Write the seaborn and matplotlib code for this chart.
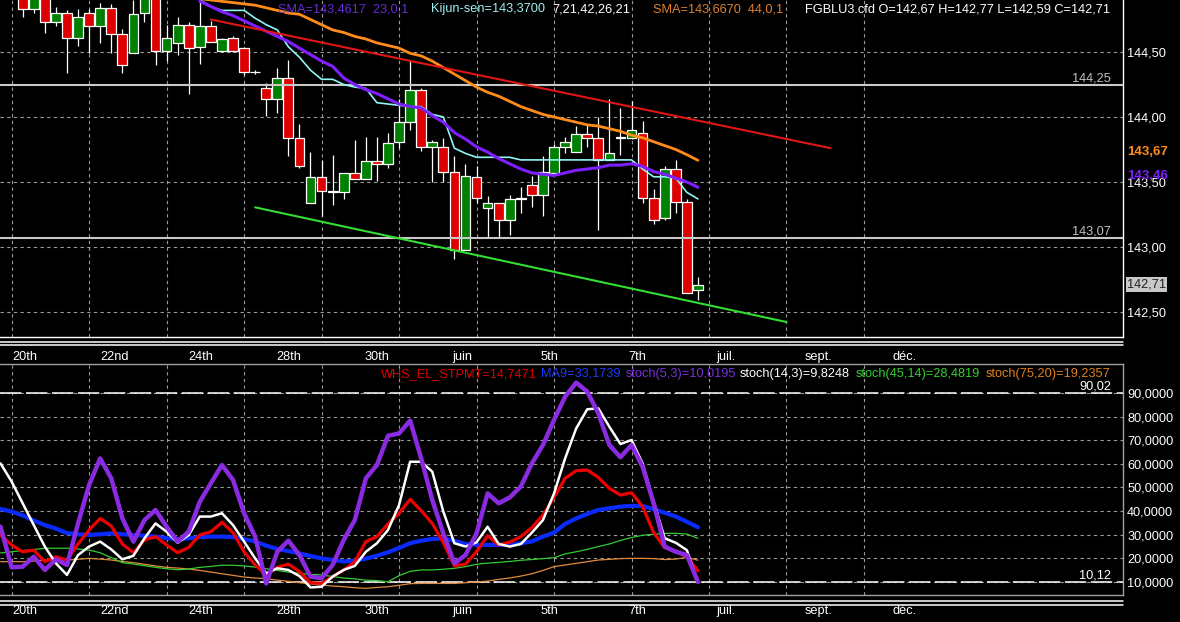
import matplotlib
matplotlib.use("Agg")
import numpy as np
import pandas as pd
import matplotlib.pyplot as plt
import seaborn as sns
from matplotlib.lines import Line2D

# ---- price candles (one per session, index 0..61)
opens = [144.95, 144.83, 144.93, 144.73, 144.80, 144.61, 144.80, 144.70, 144.84, 144.64,
         144.49, 144.80, 144.93, 144.51, 144.57, 144.71, 144.54, 144.70, 144.51, 144.61,
         144.53, 144.35, 144.22, 144.14, 144.30, 143.84, 143.34, 143.54, 143.43, 143.42,
         143.57, 143.52, 143.66, 143.64, 143.81, 143.96, 144.21, 143.77, 143.77, 143.58,
         142.98, 143.54, 143.30, 143.34, 143.21, 143.37, 143.48, 143.40, 143.57, 143.77,
         143.73, 143.87, 143.84, 143.67, 143.85, 143.84, 143.88, 143.38, 143.22, 143.60,
         143.35, 142.67]
highs = [144.98, 144.95, 144.96, 144.85, 144.82, 144.83, 144.83, 144.88, 144.87, 144.68,
         144.90, 144.95, 144.96, 144.71, 144.77, 144.73, 144.95, 144.74, 144.61, 144.62,
         144.54, 144.36, 144.26, 144.38, 144.44, 143.95, 143.73, 143.67, 143.71, 143.57,
         143.82, 143.85, 143.85, 143.88, 144.14, 144.43, 144.22, 143.82, 143.84, 143.70,
         143.64, 143.62, 143.39, 143.34, 143.40, 143.46, 143.55, 143.70, 143.79, 143.85,
         143.93, 143.94, 144.00, 144.14, 144.07, 144.12, 143.97, 143.45, 143.62, 143.67,
         143.37, 142.77]
lows = [144.77, 144.80, 144.65, 144.70, 144.34, 144.55, 144.49, 144.57, 144.49, 144.34,
        144.49, 144.73, 144.40, 144.43, 144.48, 144.18, 144.41, 144.58, 144.50, 144.50,
        144.32, 144.33, 144.01, 144.03, 143.70, 143.61, 143.34, 143.24, 143.32, 143.37,
        143.52, 143.52, 143.51, 143.61, 143.76, 143.90, 143.74, 143.50, 143.50, 142.91,
        142.98, 143.34, 143.08, 143.08, 143.09, 143.26, 143.31, 143.24, 143.57, 143.72,
        143.73, 143.77, 143.13, 143.67, 143.71, 143.83, 143.34, 143.18, 143.21, 143.26,
        142.65, 142.59]
closes = [144.83, 144.92, 144.73, 144.80, 144.61, 144.77, 144.70, 144.84, 144.64, 144.40,
          144.79, 144.92, 144.51, 144.61, 144.71, 144.53, 144.70, 144.58, 144.60, 144.51,
          144.35, 144.345, 144.14, 144.30, 143.84, 143.62, 143.54, 143.43, 143.42, 143.57,
          143.52, 143.66, 143.64, 143.80, 143.96, 144.21, 143.77, 143.81, 143.58, 142.98,
          143.55, 143.38, 143.34, 143.21, 143.37, 143.38, 143.40, 143.58, 143.77, 143.81,
          143.87, 143.84, 143.67, 143.72, 143.84, 143.90, 143.38, 143.21, 143.60, 143.35,
          142.65, 142.71]

# ---- overlays on price (index 16..61)
ma_start = 16
sma44 = [144.91, 144.90, 144.89, 144.88, 144.87, 144.86, 144.84, 144.82, 144.80, 144.79,
         144.75, 144.71, 144.67, 144.65, 144.62, 144.60, 144.57, 144.55, 144.53, 144.49,
         144.47, 144.43, 144.38, 144.33, 144.28, 144.23, 144.19, 144.16, 144.12, 144.08,
         144.05, 144.02, 144.00, 143.98, 143.96, 143.94, 143.93, 143.91, 143.89, 143.86,
         143.84, 143.81, 143.78, 143.75, 143.71, 143.667]
sma23 = [144.89, 144.85, 144.81, 144.78, 144.74, 144.70, 144.66, 144.62, 144.58, 144.53,
         144.48, 144.43, 144.39, 144.30, 144.25, 144.21, 144.18, 144.14, 144.10, 144.08,
         144.07, 144.01, 143.96, 143.88, 143.83, 143.77, 143.73, 143.68, 143.64, 143.60,
         143.57, 143.56, 143.55, 143.57, 143.59, 143.60, 143.61, 143.63, 143.63, 143.64,
         143.62, 143.58, 143.56, 143.53, 143.50, 143.46]
kijun = [144.90, 144.85, 144.82, 144.82, 144.82, 144.76, 144.71, 144.67, 144.54, 144.46,
         144.36, 144.29, 144.29, 144.25, 144.23, 144.22, 144.11, 144.10, 144.09, 144.08,
         144.08, 144.02, 144.00, 143.76, 143.72, 143.69, 143.69, 143.69, 143.69, 143.67,
         143.67, 143.67, 143.67, 143.67, 143.67, 143.67, 143.67, 143.67, 143.67, 143.67,
         143.60, 143.54, 143.54, 143.53, 143.42, 143.37]
red_trend_x = [17, 73]
red_trend_y = [144.75, 143.76]
green_trend_x = [21, 69]
green_trend_y = [143.305, 142.423]
price_levels = [144.25, 143.07]

# ---- oscillators (index -2..61)
osc_start = -2
stpmt = [29.9, 25.7, 22.8, 23.5, 18.6, 20.7, 19.3, 26.1, 32.0, 36.9, 33.7, 26.1, 22.4, 27.8,
         29.2, 25.7, 22.4, 24.7, 29.9, 31.3, 35.3, 30.9, 22.8, 17.2, 13.0, 16.2, 17.6, 14.4,
         9.7, 9.4, 12.3, 15.1, 18.6, 27.1, 29.2, 34.6, 39.1, 45.0, 40.2, 34.8, 26.6, 16.8,
         17.6, 22.8, 29.6, 25.7, 26.9, 29.2, 33.0, 38.4, 45.8, 53.9, 57.1, 57.4, 54.3, 49.6,
         46.8, 47.8, 41.9, 30.9, 24.5, 23.1, 20.7, 14.75]
ma9 = [40.9, 39.8, 38.2, 36.0, 34.1, 32.6, 30.7, 30.2, 29.9, 30.2, 30.6, 30.2, 29.9, 29.6,
       29.2, 28.6, 28.1, 28.5, 29.0, 29.2, 29.2, 29.0, 28.2, 27.1, 25.4, 24.0, 23.1, 22.1,
       21.0, 20.0, 19.3, 18.7, 19.0, 19.9, 21.1, 22.6, 24.4, 26.4, 27.5, 28.2, 28.5, 27.4,
       26.1, 25.7, 25.7, 25.7, 25.7, 26.4, 27.2, 29.2, 30.9, 34.6, 36.9, 38.8, 40.5, 41.2,
       41.9, 42.2, 42.2, 40.8, 39.3, 37.7, 35.5, 33.17]
stoch_5_3 = [33.4, 16.2, 16.5, 20.7, 15.1, 19.6, 17.2, 34.8, 51.1, 62.3, 53.9, 37.0, 27.1,
             36.2, 40.5, 33.4, 27.1, 31.3, 44.0, 51.8, 59.5, 53.2, 39.1, 29.2, 9.4, 22.8,
             27.5, 21.4, 12.3, 11.6, 17.2, 27.8, 36.2, 53.9, 59.5, 71.9, 72.9, 78.3, 62.3,
             44.7, 30.6, 17.9, 21.4, 30.6, 47.5, 43.3, 45.8, 50.4, 60.2, 68.0, 78.6, 88.4,
             94.4, 90.6, 81.4, 68.0, 62.8, 68.0, 58.8, 43.3, 25.0, 22.8, 21.4, 10.02]
stoch_14_3 = [60.2, 52.5, 43.3, 34.1, 25.0, 17.9, 13.0, 21.4, 25.0, 27.1, 23.8, 19.6, 21.1,
              28.5, 34.8, 31.3, 26.6, 29.9, 37.7, 37.7, 39.1, 34.1, 27.1, 20.0, 13.7, 15.8,
              15.1, 12.5, 7.7, 8.0, 12.3, 15.1, 16.8, 22.8, 26.4, 32.0, 42.6, 60.9, 60.9,
              56.7, 39.8, 26.4, 25.0, 26.8, 33.4, 26.1, 25.0, 26.1, 30.9, 36.2, 47.5, 62.3,
              75.0, 83.1, 83.5, 75.7, 68.4, 70.1, 60.2, 44.0, 28.5, 26.6, 23.5, 9.82]
stoch_45_14 = [22.3, 22.8, 23.3, 23.7, 24.3, 24.3, 24.3, 24.0, 23.5, 22.4, 20.3, 18.2, 17.6,
               16.9, 16.2, 15.6, 15.2, 15.5, 16.2, 16.6, 17.1, 17.1, 16.8, 16.3, 15.6, 14.9,
               14.2, 13.7, 13.2, 13.0, 12.3, 11.7, 11.3, 10.8, 10.6, 10.1, 12.7, 14.5, 15.1,
               15.1, 15.4, 15.8, 16.5, 17.5, 18.0, 18.3, 18.7, 19.2, 19.5, 19.9, 20.3, 21.9,
               22.8, 23.8, 25.0, 26.1, 27.6, 28.8, 29.8, 30.2, 30.6, 30.6, 30.3, 28.48]
stoch_75_20 = [18.6, 18.6, 18.6, 18.9, 19.3, 19.3, 19.3, 19.6, 20.0, 19.7, 19.3, 18.7, 18.2,
               17.5, 16.8, 16.2, 15.9, 15.5, 14.9, 14.2, 13.5, 12.8, 12.1, 11.7, 11.4, 10.8,
               10.3, 9.7, 9.2, 8.7, 8.3, 8.0, 7.6, 7.3, 7.7, 8.0, 8.6, 9.3, 9.4, 9.4, 9.4,
               9.4, 9.7, 10.0, 10.4, 11.1, 11.7, 12.5, 13.5, 14.9, 16.5, 17.2, 17.9, 18.6,
               19.3, 19.6, 19.9, 20.0, 20.0, 19.9, 19.5, 19.7, 20.4, 19.24]
osc_levels = [90.02, 10.12]

# ---- axis labels
date_labels = ["20th", "22nd", "24th", "28th", "30th", "juin", "5th", "7th", "juil.", "sept.", "déc."]
date_pos = [-0.9, 7.05, 15.0, 22.95, 30.9, 38.85, 46.8, 54.75, 62.7, 70.65, 78.6]
grid_pos = [-1, 6, 13, 20, 27, 34, 41, 48, 55, 62, 69, 76]
price_ticks = [142.5, 143.0, 143.5, 144.0, 144.5]
osc_ticks = [10, 20, 30, 40, 50, 60, 70, 80, 90]

sns.set_theme(style="dark")
plt.rcParams['font.family'] = ['Liberation Sans', 'DejaVu Sans']

W, H = 1180, 622
fig = plt.figure(figsize=(W / 100, H / 100), dpi=100, facecolor="black")
ax1 = fig.add_axes([0, 1 - 337 / H, 1123 / W, 337 / H])
ax2 = fig.add_axes([0, 1 - 595 / H, 1123 / W, (595 - 364) / H])

def comma(v, nd):
    return f"{v:.{nd}f}".replace(".", ",")

for ax in (ax1, ax2):
    ax.set_facecolor("black")
    ax.set_xlim(-2.05, 99.4)
    ax.set_xticks(grid_pos, minor=True)
    ax.set_xticks(date_pos)
    ax.set_xticklabels(date_labels, ha="left")
    ax.grid(False)
    ax.grid(True, which="minor", axis="x", color="#9a9a9a", lw=0.8, ls=(0, (3, 3)))
    ax.grid(True, which="major", axis="y", color="#9a9a9a", lw=0.8, ls=(0, (3, 3)))
    ax.yaxis.tick_right()
    ax.tick_params(which="both", length=0, colors="white", labelsize=9.2)
    ax.spines["left"].set_visible(False)

# ---- top panel
ax1.set_ylim(142.3077, 144.90)
ax1.set_yticks(price_ticks)
ax1.set_yticklabels([comma(v, 2) for v in price_ticks])
ax1.tick_params(axis="x", pad=10)
ax1.tick_params(axis="y", pad=3)
ax1.spines["top"].set_visible(False)
for s in ("right", "bottom"):
    ax1.spines[s].set_color("white")
    ax1.spines[s].set_linewidth(1.0)

idx = np.arange(len(opens))
o = np.array(opens); c = np.array(closes)
up = c >= o
ax1.vlines(idx, lows, highs, color="white", lw=0.9, zorder=2)
ax1.bar(idx, np.abs(c - o), bottom=np.minimum(o, c), width=0.88,
        color=np.where(up, "#008000", "#dd0000"), edgecolor="white", linewidth=0.9, zorder=3)

for lv in price_levels:
    ax1.axhline(lv, color="#c8c8c8", lw=1.5, zorder=4)
    ax1.text(1111 / 1123, lv, comma(lv, 2), transform=ax1.get_yaxis_transform(),
             ha="right", va="bottom", color="#c0c0c0", fontsize=9.2)

ma_idx = np.arange(ma_start, ma_start + len(sma44))
top_df = pd.DataFrame({"i": ma_idx, "sma44": sma44, "sma23": sma23, "kijun": kijun})
sns.lineplot(data=top_df, x="i", y="sma44", ax=ax1, color="#ff8c1a", lw=2.0, zorder=5)
sns.lineplot(data=top_df, x="i", y="kijun", ax=ax1, color="#8ff5f5", lw=1.2, zorder=5)
sns.lineplot(data=top_df, x="i", y="sma23", ax=ax1, color="#7f1fff", lw=2.2, zorder=6)
ax1.plot(red_trend_x, red_trend_y, color="#e01515", lw=1.5, zorder=6)
ax1.plot(green_trend_x, green_trend_y, color="#33dd33", lw=1.5, zorder=6)
ax1.set_xlabel(""); ax1.set_ylabel("")

ytr = ax1.get_yaxis_transform()
ax1.annotate("143,67", xy=(1, sma44[-1]), xycoords=ytr, xytext=(3, 6), textcoords="offset points",
             va="center", ha="left", color="#ff8c1a", fontsize=9.5, fontweight="bold", annotation_clip=False)
ax1.annotate("143,46", xy=(1, sma23[-1]), xycoords=ytr, xytext=(3, 8), textcoords="offset points",
             va="center", ha="left", color="#7f1fff", fontsize=9.5, fontweight="bold", annotation_clip=False)
ax1.annotate(comma(closes[-1], 2), xy=(1, closes[-1]), xycoords=ytr, xytext=(3, 0),
             textcoords="offset points", va="center", ha="left", color="#202020", fontsize=9.2,
             bbox=dict(boxstyle="square,pad=0.1", fc="#c8c8c8", ec="none"), annotation_clip=False)

# ---- bottom panel
ax2.set_ylim(4.50, 102.27)
ax2.set_yticks(osc_ticks)
ax2.set_yticklabels([comma(v, 4) for v in osc_ticks])
ax2.tick_params(axis="x", pad=7)
ax2.tick_params(axis="y", pad=3)
for s in ("right", "bottom", "top"):
    ax2.spines[s].set_color("#a0a0a0")
    ax2.spines[s].set_linewidth(1.0)

for lv in osc_levels:
    ax2.axhline(lv, color="white", lw=1.1, dashes=(14, 3), zorder=2)
    ax2.text(1111 / 1123, lv, comma(lv, 2), transform=ax2.get_yaxis_transform(),
             ha="right", va="bottom", color="white", fontsize=9.2)

osc_idx = np.arange(osc_start, osc_start + len(stpmt))
osc_df = pd.DataFrame({"i": osc_idx, "stpmt": stpmt, "ma9": ma9, "s53": stoch_5_3,
                       "s143": stoch_14_3, "s4514": stoch_45_14, "s7520": stoch_75_20})
sns.lineplot(data=osc_df, x="i", y="s7520", ax=ax2, color="#e08a3c", lw=0.9, zorder=3)
sns.lineplot(data=osc_df, x="i", y="s4514", ax=ax2, color="#33cc33", lw=0.9, zorder=3)
sns.lineplot(data=osc_df, x="i", y="ma9", ax=ax2, color="#0a2aff", lw=3.0, zorder=4)
sns.lineplot(data=osc_df, x="i", y="stpmt", ax=ax2, color="#ee0000", lw=2.3, zorder=5)
sns.lineplot(data=osc_df, x="i", y="s143", ax=ax2, color="white", lw=1.8, zorder=6)
sns.lineplot(data=osc_df, x="i", y="s53", ax=ax2, color="#8a2be2", lw=3.2, zorder=7)
ax2.set_xlabel(""); ax2.set_ylabel("")

# ---- separators
for yy in (341.5, 344.5, 600.5, 604.5):
    fig.add_artist(Line2D([0, 1123 / W], [1 - yy / H] * 2, color="white", lw=1.1,
                          transform=fig.transFigure))

# ---- legends
def ftext(x, y, s, color):
    fig.text(x / W, 1 - y / H, s, color=color, fontsize=9.2, va="center", ha="left")

ftext(278, 9, "SMA=143,4617  23,0,1", "#6a2bd6")
ftext(431, 9, "Kijun-sen=143,3700", "#9ff0f0")
ftext(552, 9, "7,21,42,26,21", "white")
ftext(653, 9, "SMA=143,6670  44,0,1", "#e08030")
ftext(805, 9, "FGBLU3.cfd O=142,67 H=142,77 L=142,59 C=142,71", "white")

ftext(381, 374, "WHS_EL_STPMT=14,7471", "#e00000")
ftext(541, 374, "MA9=33,1739", "#1a3cff")
ftext(626, 374, "stoch(5,3)=10,0195", "#7a30e0")
ftext(740, 374, "stoch(14,3)=9,8248", "white")
ftext(856, 374, "stoch(45,14)=28,4819", "#33d033")
ftext(986, 374, "stoch(75,20)=19,2357", "#e08020")

fig.savefig("out.png", dpi=100, facecolor="black")
